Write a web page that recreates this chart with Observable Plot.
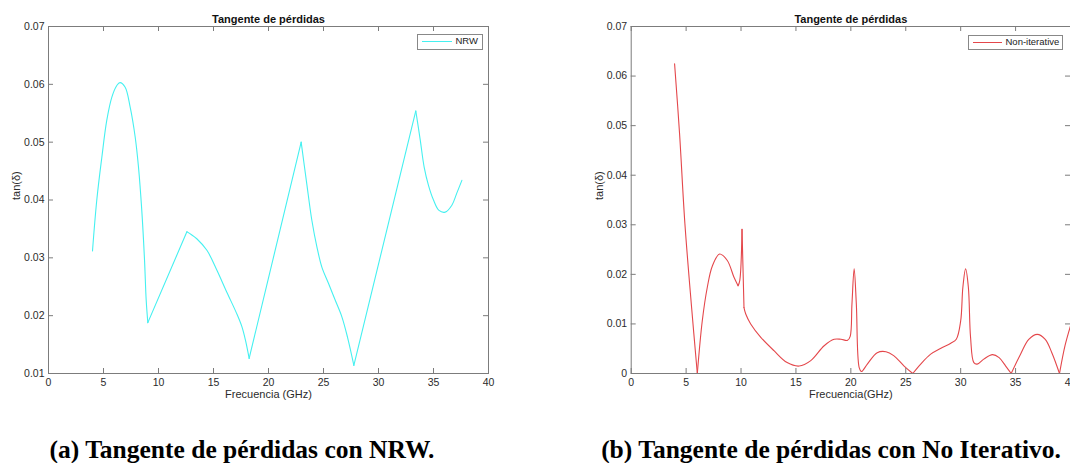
<!DOCTYPE html>
<html><head><meta charset="utf-8">
<script src="https://cdn.jsdelivr.net/npm/d3@7"></script>
<script src="https://cdn.jsdelivr.net/npm/@observablehq/plot@0.6"></script>
<style>
html,body{margin:0;padding:0;background:#fff;overflow:hidden;}
#root{position:relative;width:1070px;height:463px;overflow:hidden;font-family:"Liberation Sans",Arial,Helvetica,sans-serif;}
.panel{position:absolute;top:0;}
.legend{position:absolute;border:1px solid #888;background:#fff;box-sizing:border-box;}
.legend .sample{position:absolute;height:0;border-top:1.2px solid;}
.legend .lab{position:absolute;font-size:9.5px;color:#222;line-height:10px;white-space:nowrap;}
.caption{position:absolute;font-family:"Liberation Serif","Times New Roman",serif;font-weight:bold;font-size:25.5px;line-height:26px;white-space:nowrap;transform:translateX(-50%);color:#000;}
</style></head>
<body><div id="root"></div>
<script>
// ---- data ----
const freqNRW = [4.0, 4.39, 4.85, 5.3, 5.76, 6.21, 6.5, 6.97, 7.42, 7.88, 8.18, 8.48, 8.73, 8.88, 9.03,
  12.58, 13.0, 13.48, 14.4, 15.3, 16.2, 17.1, 17.58, 17.9, 18.24,
  22.97, 23.48, 23.94, 24.4, 24.85, 25.45, 26.06, 26.67, 27.18, 27.76,
  33.39, 33.8, 34.15, 34.55, 35.0, 35.5, 36.06, 36.67, 37.1, 37.58];
const tanNRW = [0.0312, 0.0400, 0.0474, 0.0538, 0.0578, 0.0598, 0.0603, 0.0595, 0.0561, 0.0509, 0.0457, 0.0382, 0.0296, 0.0227, 0.0188,
  0.0345, 0.0340, 0.0333, 0.0313, 0.0279, 0.0241, 0.0204, 0.0181, 0.0158, 0.0126,
  0.0500, 0.0428, 0.0365, 0.0319, 0.0284, 0.0256, 0.0227, 0.0198, 0.0163, 0.0114,
  0.0554, 0.0503, 0.0457, 0.0425, 0.0400, 0.0382, 0.0379, 0.0391, 0.0411, 0.0434];
// frequencies where the NRW curve has a sharp corner
const cornersNRW = [9.03, 12.58, 18.24, 22.97, 27.76, 33.39];

const freqNI = [3.95, 4.4, 4.89, 5.5, 6.02, 6.47, 6.93, 7.39, 8.05, 8.75, 9.36, 9.73, 9.88, 10.09, 10.27, 10.43, 10.88,
  11.8, 13.0, 14.2, 15.3, 16.35, 17.57, 18.48, 19.1, 19.7, 19.94, 20.1, 20.3, 20.5, 20.76, 20.97,
  21.5, 22.4, 23.2, 23.9, 24.85, 25.64, 26.36, 27.27, 28.2, 29.1, 29.6, 30.0, 30.2, 30.45, 30.7, 30.9,
  31.2, 31.5, 32.1, 32.9, 33.5, 34.1, 34.6, 35.45, 36.2, 36.97, 37.7, 38.3, 39.0, 39.5, 40.0];
const tanNI = [0.0625, 0.0485, 0.0302, 0.0133, 0.0, 0.0106, 0.0174, 0.0217, 0.0241, 0.0228, 0.0194, 0.0177, 0.0187, 0.0291, 0.0133, 0.0120, 0.0100,
  0.0073, 0.0046, 0.0022, 0.0015, 0.0026, 0.0056, 0.0069, 0.0069, 0.0067, 0.0075, 0.0140, 0.0211, 0.0140, 0.0012, 0.0004,
  0.0019, 0.0042, 0.0044, 0.0036, 0.0015, 0.0, 0.0019, 0.0039, 0.0051, 0.0061, 0.0069, 0.0106, 0.0174, 0.0211, 0.0174, 0.0073,
  0.0022, 0.0019, 0.0029, 0.0038, 0.0032, 0.0015, 0.0, 0.0039, 0.0069, 0.0079, 0.0069, 0.0042, 0.0, 0.0056, 0.0096];
// frequencies where the Non-iterative curve has a sharp corner
const cornersNI = [6.02, 9.73, 10.09, 10.27, 25.64, 34.6, 39.0];

const xTicks = [0, 5, 10, 15, 20, 25, 30, 35, 40];
const yTicksNRW = [0.01, 0.02, 0.03, 0.04, 0.05, 0.06, 0.07];
const yTicksNI = [0, 0.01, 0.02, 0.03, 0.04, 0.05, 0.06, 0.07];

const titleText = "Tangente de pérdidas";
const yLabelText = "tan(δ)";

// ---- drawing ----
const root = document.getElementById("root");
const H = 410, MT = 26, MB = 37;
const FRAME = "#7c7c7c", TXT = "#2b2b2b";

// split a series into smooth pieces that meet at the corner points
function pieces(freq, tan, corners) {
  const out = [];
  let seg = 0;
  freq.forEach((f, i) => {
    out.push({f, t: tan[i], seg});
    if (corners.includes(f)) { seg++; out.push({f, t: tan[i], seg}); }
  });
  return out;
}

function panel({freq, tan, corners, color, yDomain, yTicks, xLabel, width, ml, mr, left}) {
  const data = pieces(freq, tan, corners);
  const FH = H - MT - MB, FW = width - ml - mr;
  const fmt = d => d === 0 ? "0" : d.toFixed(2);
  const svg = Plot.plot({
    width, height: H, marginTop: MT, marginBottom: MB, marginLeft: ml, marginRight: mr,
    style: {fontFamily: '"Liberation Sans", Arial, Helvetica, sans-serif', background: "#fff", overflow: "visible"},
    x: {domain: [0, 40], ticks: xTicks},
    y: {domain: yDomain, ticks: yTicks},
    marks: [
      Plot.line(data, {x: "f", y: "t", z: "seg", stroke: color, strokeWidth: 1.1, curve: "catmull-rom"}),
      Plot.frame({stroke: FRAME, strokeWidth: 1}),
      Plot.tickX(xTicks, {x: d => d, stroke: FRAME, insetTop: FH - 5}),
      Plot.tickX(xTicks, {x: d => d, stroke: FRAME, insetBottom: FH - 5}),
      Plot.tickY(yTicks, {y: d => d, stroke: FRAME, insetRight: FW - 5}),
      Plot.tickY(yTicks, {y: d => d, stroke: FRAME, insetLeft: FW - 5}),
      Plot.axisX({ticks: xTicks, tickSize: 0, tickPadding: 5, label: null, fontSize: 10.5, fill: TXT}),
      Plot.axisY({ticks: yTicks, tickSize: 0, tickPadding: 4, label: null, fontSize: 10.5, fill: TXT, tickFormat: fmt}),
      Plot.text([titleText], {text: d => d, frameAnchor: "top", dy: -4, lineAnchor: "bottom", fontWeight: "bold", fontSize: 11, fill: "#111"}),
      Plot.text([xLabel], {text: d => d, frameAnchor: "bottom", dy: 21, lineAnchor: "middle", fontSize: 11, fill: TXT}),
      Plot.text([yLabelText], {text: d => d, frameAnchor: "left", dx: -32, rotate: -90, fontSize: 11, fill: TXT})
    ]
  });
  svg.classList.add("panel");
  svg.style.left = left + "px";
  svg.style.position = "absolute";
  svg.style.top = "0px";
  root.appendChild(svg);
}

panel({freq: freqNRW, tan: tanNRW, corners: cornersNRW, color: "#45f0f0", yDomain: [0.01, 0.07], yTicks: yTicksNRW,
  xLabel: "Frecuencia (GHz)", width: 535, ml: 48, mr: 47, left: 0});
panel({freq: freqNI, tan: tanNI, corners: cornersNI, color: "#e4474b", yDomain: [0, 0.07], yTicks: yTicksNI,
  xLabel: "Frecuencia(GHz)", width: 535, ml: 95.7, mr: 0, left: 535});

function legend({left, top, w, h, color, label, sx, sw, tx}) {
  const d = document.createElement("div");
  d.className = "legend";
  Object.assign(d.style, {left: left + "px", top: top + "px", width: w + "px", height: h + "px"});
  const s = document.createElement("div");
  s.className = "sample";
  Object.assign(s.style, {left: sx + "px", width: sw + "px", top: (h / 2 - 1.5) + "px", borderTopColor: color});
  const t = document.createElement("div");
  t.className = "lab";
  t.textContent = label;
  Object.assign(t.style, {left: tx + "px", top: (h / 2 - 6.5) + "px"});
  d.appendChild(s); d.appendChild(t);
  root.appendChild(d);
}
legend({left: 417, top: 34, w: 65.5, h: 15.5, color: "#45f0f0", label: "NRW", sx: 4, sw: 30, tx: 37.5});
legend({left: 967.5, top: 35, w: 95, h: 15, color: "#e4474b", label: "Non-iterative", sx: 4.5, sw: 29, tx: 37});

function caption(text, cx) {
  const c = document.createElement("div");
  c.className = "caption";
  c.textContent = text;
  Object.assign(c.style, {left: cx + "px", top: "437px"});
  root.appendChild(c);
}
caption("(a) Tangente de pérdidas con NRW.", 242);
caption("(b) Tangente de pérdidas con No Iterativo.", 831);
</script></body></html>
